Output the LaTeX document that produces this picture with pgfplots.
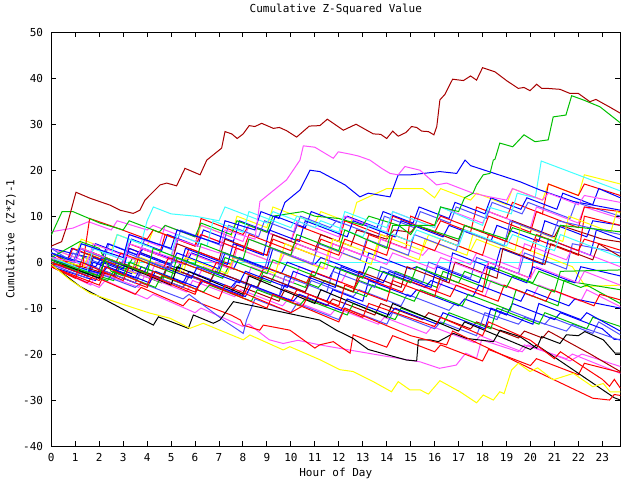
\documentclass[border=0pt]{standalone}
\usepackage{fontspec}
\setmainfont{DejaVu Sans Mono}
\usepackage{pgfplots}
\pgfplotsset{compat=1.18}

\definecolor{cred}{HTML}{FF0000}
\definecolor{cgreen}{HTML}{00C000}
\definecolor{cblue}{HTML}{0000FF}
\definecolor{cmag}{HTML}{FF50FF}
\definecolor{ccyan}{HTML}{40FFFF}
\definecolor{cyel}{HTML}{FFFF00}
\definecolor{cslate}{HTML}{5050FF}
\definecolor{cdred}{HTML}{A80000}

\begin{document}
\begin{tikzpicture}
\useasboundingbox (-51.3pt,-34pt) rectangle (588.7pt,446pt);
\begin{axis}[
    at={(0,0)}, anchor=south west,
    scale only axis,
    width=569pt, height=413.7pt,
    xmin=0, xmax=23.75, ymin=-40, ymax=50,
    xtick={0,1,...,23}, ytick={-40,-30,...,50},
    tick align=inside,
    major tick length=5pt,
    axis line style={line width=1pt},
    every tick/.style={black, line width=1pt},
    font=\fontsize{11}{13}\selectfont,
    /pgf/number format/assume math mode=true,
    xticklabel style={inner sep=0pt, yshift=-7pt},
    yticklabel style={inner sep=0pt, xshift=-8pt},
    title={Cumulative Z-Squared Value},
    title style={at={(axis description cs:0.5,1.040)}, anchor=center, inner sep=0pt},
    xlabel={Hour of Day},
    xlabel style={at={(axis description cs:0.5,-0.066)}, anchor=center, inner sep=0pt},
    ylabel={Cumulative (Z*Z)-1},
    ylabel style={at={(axis description cs:-0.0708,0.5)}, anchor=center, inner sep=0pt},
    no markers,
    every axis plot/.append style={line width=1pt},
]

% flat cyan
\addplot[ccyan] coordinates {(0,0)(23.75,0)};

% L4 yellow
\addplot[cyel] coordinates {(0,3)(1,1)(1.25,5)(2.5,2.5)(2.75,6)(4,3.5)(4.25,7)(6,3.5)(6.25,8)(7.5,5.5)(7.75,10)(9,7.5)(9.25,12)(11,8.5)(11.25,11)(12.5,8.5)(12.75,13)(14,16)(15.5,16)(16,14)(16.25,16)(17.5,13.5)(17.75,15)(19,12.5)(19.25,16)(20.5,13.5)(20.75,17)(22,14.5)(22.25,19)(23.75,17)};
% L5 red
\addplot[cred] coordinates {(0,0.5)(1.5,-2.5)(1.75,2)(3,-0.5)(3.25,4)(4.5,1.5)(4.75,6)(6,3.5)(6.25,9.5)(8,6)(8.25,8)(10,4.5)(10.25,8)(12,4.5)(12.25,9)(14,5.5)(14.25,10)(16,6.5)(16.25,9)(17.5,6.5)(17.75,12)(19,9.5)(19.25,13)(20.5,10.5)(20.75,17)(22,14.5)(22.25,17)(23.75,14.5)};
% L9 blue
\addplot[cblue] coordinates {(0,3)(1.6,1)(1.85,4)(3.1,1.5)(3.35,5)(4.6,2.5)(4.85,6)(6.1,3.5)(6.35,7)(7.6,4.5)(7.85,9)(9.1,6.5)(9.35,10)(10.6,7.5)(10.85,11)(12.1,8.5)(12.35,10)(13.6,7.5)(13.85,11)(15.1,8.5)(15.35,12)(16.6,9.5)(16.85,13)(18.1,10.5)(18.35,14)(19.6,11.5)(19.85,14)(21.1,11.5)(21.35,15)(22.6,12.5)(22.85,16)(23.75,14)};
% L10 magenta
\addplot[cmag] coordinates {(0,2)(1.5,-1)(1.75,3)(3,0.5)(3.25,6)(4.5,3.5)(4.75,8)(6,5.5)(6.25,8)(8,4.5)(8.25,8)(10,4.5)(10.25,9)(12,5.5)(12.25,10)(14,6.5)(14.25,11)(16,7.5)(16.25,12)(18,8.5)(18.25,11)(20,7.5)(20.25,12)(22,8.5)(22.25,12)(23.75,9.5)};
% L11 slate
\addplot[cslate] coordinates {(0,1)(0.65,-1)(0.9,2)(2.15,-0.5)(2.4,4)(3.65,1.5)(3.9,5)(5.15,2.5)(5.4,7)(7.15,3.5)(7.4,8)(8.65,5.5)(8.9,9)(10.15,6.5)(10.4,10)(11.65,7.5)(11.9,9)(13.65,5.5)(13.9,10)(15.15,7.5)(15.4,11)(16.65,8.5)(16.9,12)(18.15,9.5)(18.4,13)(19.65,10.5)(19.9,13)(21.65,9.5)(21.9,13)(23.75,10)};
% L12 dark red
\addplot[cdred] coordinates {(0,2)(1,0)(1.25,3)(3,-0.5)(3.25,3)(5,-0.5)(5.25,4)(7,0.5)(7.25,5)(9,1.5)(9.25,6)(11,2.5)(11.25,6)(12.5,3.5)(12.75,7)(14,5)(14.3,7)(15,6.5)(15.25,8)(17,4.5)(17.25,8)(19,4.5)(19.25,9)(21,5.5)(21.25,8)(23,5)(23.75,4.4)};
% L13 red
\addplot[cred] coordinates {(0,1)(2,-3)(2.25,1)(3.5,-1.5)(3.75,3)(5.5,-0.5)(5.75,3)(7.5,-0.5)(7.75,4)(9,1.5)(9.25,5)(11,1.5)(11.25,5)(13,1.5)(13.25,6)(14.8,3)(15,10)(16,8)(16.25,10)(18,6.5)(18.25,10)(20,6.5)(20.25,11)(22,7.5)(22.25,12)(23.75,11)};
% L14 blue
\addplot[cblue] coordinates {(0,-1)(1.85,-4)(2.1,0)(3.35,-2.5)(3.6,2)(5.35,-1.5)(5.6,3)(7.35,-0.5)(7.6,4)(8.85,1.5)(9.1,7)(10.35,4.5)(10.6,9)(12.35,5.5)(12.6,9)(14.35,5.5)(14.6,9)(16.35,5.5)(16.6,8)(18.35,4.5)(18.6,8)(20.35,4.5)(20.6,9)(22.35,5.5)(22.6,9)(23.75,8)};
% L15 yellow
\addplot[cyel] coordinates {(0,1)(1.5,-2)(1.75,1)(3.5,-2.5)(3.75,1)(5.5,-2.5)(5.75,2)(7.5,-1.5)(7.75,3)(9.5,-0.5)(9.75,4)(11.5,0.5)(11.75,5)(13.5,1.5)(13.75,6)(15.5,2.5)(15.75,6)(17.5,2.5)(17.75,5)(19.5,1.5)(19.75,3)(21.5,-0.5)(21.75,-1)(22.3,-5.3)(23.75,-5)};
% L16 green
\addplot[cgreen] coordinates {(0,0)(2.6,-4)(2.85,-1)(4.6,-4.5)(4.85,-1)(6.6,-4.5)(6.85,-2)(8.6,-5.5)(8.85,-2)(10.6,-5.5)(10.85,-3)(12.6,-6.5)(12.85,-4)(14.1,-6.5)(14.35,-2)(16.1,-5.5)(16.35,-2)(18.1,-5.5)(18.35,-1)(20.1,-4.5)(20.35,-2)(22.1,-5.5)(22.35,-5)(23.75,-9)};
% L17 magenta
\addplot[cmag] coordinates {(0,-0.5)(2.1,-3.5)(2.35,0)(4.1,-3.5)(4.35,0)(6.1,-3.5)(6.35,-1)(8.1,-4.5)(8.35,-1)(10.1,-4.5)(10.35,-1)(12.1,-4.5)(12.35,-2)(14.1,-5.5)(14.35,-3)(16.1,-6.5)(16.35,-4)(18.1,-7.5)(18.35,-4)(20.1,-7.5)(20.35,-5)(22.1,-8.5)(22.35,-6)(23.75,-9.7)};
% L18 slate
\addplot[cslate] coordinates {(0,0.5)(2.6,-3.5)(2.85,0)(4.6,-3.5)(4.85,-1)(6.6,-4.5)(6.85,-2)(8.6,-5.5)(8.85,-3)(10.6,-6.5)(10.85,-4)(12.6,-7.5)(12.85,-6)(14.6,-9.5)(14.85,-7)(16.6,-10.5)(16.85,-9)(18.6,-12.5)(18.85,-10)(20.6,-13.5)(20.85,-12)(22.6,-15.5)(22.85,-13)(23.75,-15.8)};
% L19 blue
\addplot[cblue] coordinates {(0,0)(1.5,-3)(1.75,0)(3.5,-3.5)(3.75,-1)(5.5,-4.5)(5.75,-2)(7.5,-5.5)(7.75,-4)(9.5,-7.5)(9.75,-5)(11.5,-8.5)(11.75,-6)(13,-8.5)(13.25,-4)(15,-7.5)(15.25,-6)(17,-9.5)(17.25,-8)(19,-11.5)(19.25,-9)(21,-12.5)(21.25,-11)(23,-14.5)(23.5,-16.8)(23.75,-16.8)};
% L20 magenta
\addplot[cmag] coordinates {(0,-1)(1.65,-5)(1.9,-2)(3.65,-5.5)(3.9,-3)(5.65,-6.5)(5.9,-4)(7.65,-7.5)(7.9,-6)(9.65,-9.5)(9.9,-8)(11.65,-11.5)(11.9,-10)(13.65,-13.5)(13.9,-12)(15.65,-15.5)(15.9,-14)(17.65,-17.5)(17.9,-16)(19.65,-19.5)(19.9,-18)(21.65,-21.5)(22.15,-20)(23.75,-22.7)};
% L21 magenta
\addplot[cmag] coordinates {(0,-1)(2,-5.5)(2.25,-4)(4,-8)(4.25,-7)(6,-11)(6.25,-10)(8,-14)(8.25,-13.5)(9.1,-16.9)(9.68,-17.7)(10.3,-17)(11.2,-18)(14.1,-20.6)(15.4,-21.7)(16.2,-23.1)(16.9,-22.4)(17.3,-19.8)(17.75,-20.9)(17.96,-16.9)(19.5,-19.5)(19.75,-18)(21.5,-21)(21.75,-20)(23.75,-24.2)};
% L22 red
\addplot[cred] coordinates {(0,-1)(1.5,-4.5)(1.75,-3)(3.5,-7)(3.75,-5.5)(5.5,-9.5)(5.75,-8)(7.5,-11.5)(7.9,-12.6)(8.0,-13.7)(8.7,-14.8)(8.85,-13.7)(9.96,-14.8)(11.0,-18.7)(11.2,-18)(11.77,-17.3)(12.47,-19.8)(12.6,-15.8)(14,-18.5)(14.25,-16)(16,-19.5)(16.25,-18)(18,-21.5)(18.25,-19)(20,-22.5)(20.25,-21)(22,-24.5)(22.25,-22)(23.75,-24)};
% L26 dark red
\addplot[cdred] coordinates {(0,0)(1.5,-3)(1.75,-1)(3.5,-4.5)(3.75,-2)(5.5,-5.5)(5.75,-3)(7.5,-6.5)(7.75,-5)(9.5,-8.5)(9.75,-6)(11.5,-9.5)(11.75,-8)(13.5,-11.5)(13.75,-9)(15.5,-12.5)(15.75,-11)(17.5,-14.5)(17.75,-13)(19.5,-16.5)(19.75,-15)(20.5,-16.5)(20.75,-15)(22.5,-20)(23.75,-23.8)};
% L27 slate
\addplot[cslate] coordinates {(0,0)(1.5,-3)(1.75,-2)(3.5,-5.5)(3.75,-4.5)(5.5,-8)(5.75,-7)(7.18,-12.6)(8.01,-15.5)(8.15,-12.6)(8.5,-8)(10,-11)(10.25,-9)(12,-12.5)(12.25,-10)(14,-13.5)(14.25,-11)(16,-14.5)(16.25,-13)(17.75,-16)(18.1,-11)(19.5,-13.5)(19.75,-12)(21.5,-15)(21.75,-13.5)(23.75,-17)};
% L28 blue
\addplot[cblue] coordinates {(0,1.5)(0.6,-0.5)(0.85,3)(2.1,0.5)(2.35,4)(3.6,1.5)(3.85,3)(5.6,-0.5)(5.85,2)(7.6,-1.5)(7.85,1)(9.6,-2.5)(9.85,0)(11.6,-3.5)(11.85,-1)(13.6,-4.5)(13.85,-2)(15.6,-5.5)(15.85,-4)(17.6,-7.5)(17.85,-5)(19.6,-8.5)(19.85,-6)(21.6,-9.5)(21.85,-8)(23.75,-10)};
% L29 green
\addplot[cgreen] coordinates {(0,2)(1.15,-1)(1.4,2)(3.15,-1.5)(3.4,1)(5.15,-2.5)(5.4,0)(7.15,-3.5)(7.4,-1)(9.15,-4.5)(9.4,-2)(11.15,-5.5)(11.4,-4)(13.15,-7.5)(13.4,-5)(15.15,-8.5)(15.4,-6)(17.15,-9.5)(17.4,-7)(19.15,-10.5)(19.4,-6)(21.15,-9.5)(21.4,-4)(23.75,-6)};
% L30 red
\addplot[cred] coordinates {(0,-1)(2,-5)(2.25,-2)(4,-5.5)(4.25,-3)(6,-6.5)(6.25,-4)(8,-7.5)(8.25,-5)(10,-8.5)(10.25,-6)(12,-9.5)(12.25,-5)(14,-8.5)(14.25,-4)(16,-7.5)(16.25,-3)(18,-6.5)(18.25,0)(20,-3.5)(20.25,5)(22,1.5)(22.25,10)(23.75,8)};
% L31 blue
\addplot[cblue] coordinates {(0,0)(1.5,-3)(1.75,1)(3,-1.5)(3.25,3)(5,-0.5)(5.25,2)(7,-1.5)(7.25,2)(9,-1.5)(9.25,3)(11,-0.5)(11.25,1)(13,-2.5)(13.25,2)(15,-1.5)(15.25,-1)(16.5,-4)(16.75,2)(18.5,-1.5)(18.75,3)(20.5,-0.5)(20.75,5)(22.5,1.5)(22.75,7)(23.75,5)};
% L32 slate
\addplot[cslate] coordinates {(0,-0.5)(1.5,-3.5)(1.75,-1)(3.5,-4.5)(3.75,-2)(5.5,-5.5)(5.75,-3)(7.5,-6.5)(7.75,-4)(9.5,-7.5)(9.75,-3)(11.5,-6.5)(11.75,-2)(13.5,-5.5)(13.75,-1)(15.5,-4.5)(15.75,0)(17.5,-3.5)(17.75,1)(19.5,-2.5)(19.75,2)(21.5,-1.5)(21.75,4)(23.75,2)};
% L34 magenta
\addplot[cmag] coordinates {(0,3)(1.5,0)(1.75,4)(3.5,0.5)(3.75,3)(5.5,-0.5)(5.75,2)(7.5,-1.5)(7.75,3)(9.5,-0.5)(9.75,2)(11.5,-1.5)(11.75,4)(13.5,0.5)(13.75,5)(15.5,1.5)(15.75,3)(17.5,-0.5)(17.75,2)(19.5,-1.5)(19.75,4)(21.5,0.5)(21.75,3)(23.75,-1)};
% L35 dark red
\addplot[cdred] coordinates {(0,1)(2.6,-3)(2.85,0)(4.6,-3.5)(4.85,-1)(6.6,-4.5)(6.85,-2)(8.6,-5.5)(8.85,-3)(10.6,-6.5)(10.85,-3)(12.6,-6.5)(12.85,-2)(14.6,-5.5)(14.85,-1)(16.6,-4.5)(16.85,0)(18.6,-3.5)(18.85,3)(20.6,-0.5)(20.85,4)(22.6,0.5)(22.85,4)(23.75,1.2)};
% L36 yellow
\addplot[cyel] coordinates {(0,1)(1.35,-1)(1.6,2)(3.35,-1.5)(3.6,1)(5.35,-2.5)(5.6,1)(7.35,-2.5)(7.6,1)(9.35,-2.5)(9.6,2)(11.35,-1.5)(11.6,3)(13.35,-0.5)(13.6,4)(15.35,0.5)(15.6,5)(17.35,1.5)(17.6,6)(19.35,2.5)(19.6,8)(21.35,4.5)(21.6,10)(23.35,6.5)(23.6,11)(23.75,10.7)};
% L37 red
\addplot[cred] coordinates {(0,2)(0.65,0)(0.9,3)(2.65,-0.5)(2.9,2)(4.65,-1.5)(4.9,1)(6.65,-2.5)(6.9,0)(8.65,-3.5)(8.9,-1)(10.65,-4.5)(10.9,-2)(12.65,-5.5)(12.9,-3)(14.65,-6.5)(14.9,-4)(16.65,-7.5)(16.9,-5)(18.65,-8.5)(18.9,-5)(20.65,-8.5)(20.9,-6)(22.65,-9.5)(22.9,-7)(23.75,-8.2)};
% L38 green
\addplot[cgreen] coordinates {(0,0)(2.35,-4)(2.6,-2)(4.35,-5.5)(4.6,-3)(6.35,-6.5)(6.6,-5)(8.35,-8.5)(8.6,-6)(10.35,-9.5)(10.6,-8)(12.35,-11.5)(12.6,-9)(14.35,-12.5)(14.6,-10)(16.35,-13.5)(16.6,-11)(18.35,-14.5)(18.6,-10)(20.35,-13.5)(20.6,-11)(22.35,-14.5)(22.6,-12)(23.75,-14)};
% L39 blue
\addplot[cblue] coordinates {(0,2)(1.85,-1)(2.1,1)(3.85,-2.5)(4.1,0)(5.85,-3.5)(6.1,-1)(7.85,-4.5)(8.1,-2)(9.85,-5.5)(10.1,-2)(11.85,-5.5)(12.1,-1)(13.85,-4.5)(14.1,-2)(15.85,-5.5)(16.1,-1)(17.85,-4.5)(18.1,-1)(19.85,-4.5)(20.1,-1)(21.85,-4.5)(22.1,-1)(23.75,-3)};
% L40 slate
\addplot[cslate] coordinates {(0,3)(0.9,0)(1.15,3)(2.9,-0.5)(3.15,2)(4.9,-1.5)(5.15,1)(6.9,-2.5)(7.15,2)(8.9,-1.5)(9.15,3)(10.9,-0.5)(11.15,4)(12.9,0.5)(13.15,5)(14.9,1.5)(15.15,6)(16.9,2.5)(17.15,7)(18.9,3.5)(19.15,9)(20.9,5.5)(21.15,9)(23.75,6)};
% L41 blue
\addplot[cblue] coordinates {(0,0.5)(2.1,-2.5)(2.35,-1)(4.1,-4.5)(4.35,-2)(6.1,-5.5)(6.35,-4)(8.1,-7.5)(8.35,-5)(10.1,-8.5)(10.35,-7)(12.1,-10.5)(12.35,-8)(14.1,-11.5)(14.35,-10)(16.1,-13.5)(16.35,-11)(18.1,-14.5)(18.35,-10)(20.1,-13.5)(20.35,-9)(22.1,-12.5)(22.35,-11)(23.75,-15)};
% L42 magenta
\addplot[cmag] coordinates {(0,6.6)(0.9,7.4)(1.55,8.8)(2.5,7)(2.75,9)(4,7)(4.25,8)(6,4.5)(6.25,6)(8,2.5)(8.25,5)(10,1.5)(10.25,4)(12,0.5)(12.25,3)(14,-0.5)(14.25,2)(16,-1.5)(16.25,1)(18,-2.5)(18.25,0)(20,-3.5)(20.25,-1)(22,-4.5)(22.25,-2)(23.75,-5)};
% L6 red
\addplot[cred] coordinates {(0,-0.5)(1.3,-1)(1.6,9.5)(2.6,7.7)(4,5)(4.25,7)(6,3.5)(6.25,6)(8,2.5)(8.25,6)(10,2.5)(10.25,5)(12,1.5)(12.25,5)(14,1.5)(14.25,6)(16,2.5)(16.25,5)(18,1.5)(18.25,6)(20,2.5)(20.25,6)(22,2.5)(22.25,5)(23.75,2.6)};
% L7 green
\addplot[cgreen] coordinates {(0,5.9)(0.45,11)(0.9,11)(2.03,8.5)(3,7)(3.25,9)(4.5,6.5)(4.75,8)(6,5.5)(6.25,8.5)(7.5,6)(7.75,9)(9,6.5)(9.25,10)(10.5,11)(11,10)(12,9.5)(13,8)(13.25,10)(14.5,8)(15,6)(15.25,8)(17,5)(17.25,8)(19,5)(19.25,7.5)(21,4.5)(21.25,8)(23.75,6.6)};
% L8 green
\addplot[cgreen] coordinates {(0,1)(1.2,4.5)(2,3)(2.5,-2)(3,-3)(3.25,0)(5,-3.5)(5.25,1)(7,-2.5)(7.25,1)(9,-2.5)(9.25,0.5)(11,-3)(11.25,0)(13,-3.5)(13.25,-1)(15,-4.5)(15.25,-1)(17,-4.5)(17.25,-2)(19,-5.5)(19.25,-3)(21,-6.5)(21.25,-2)(23.75,-1.7)};
% L2 cyan
\addplot[ccyan] coordinates {(0,2)(1,0)(1.25,4)(2.5,1.5)(2.75,6)(3.75,4)(4,9)(4.26,12)(5,10.5)(6,10)(7,9)(7.25,12)(9,8.5)(9.25,11)(11,7.5)(11.25,9)(13,5.5)(13.25,8)(15,4.5)(15.25,7)(17,3.5)(17.25,7)(19,3.5)(19.25,6)(21,2.5)(21.25,6)(23.75,1)};
% L1 cyan
\addplot[ccyan] coordinates {(0,1)(1.5,-2)(1.75,3)(3,0.5)(3.25,5)(5,1.5)(5.25,6)(6.5,3.5)(6.75,9)(8,6.5)(8.25,11)(10,7.5)(10.25,10)(12,6.5)(12.25,11)(14,7.5)(14.25,11)(16,7.5)(16.25,12)(18,8)(18.25,12)(19.2,10.5)(19.45,15)(20.2,14)(20.45,22)(23.75,15.5)};
% black G
\addplot[black] coordinates {(0,-0.5)(1.2,-5.3)(3.84,-12.6)(4.26,-13.7)(4.47,-11.9)(5.72,-14.4)(5.93,-11.5)(6.76,-13.3)(7.04,-12.6)(7.6,-8.6)(11.2,-12.6)(11.9,-14.8)(12.6,-16.6)(13.23,-19)(14.06,-20.2)(14.83,-21.3)(15.25,-21.5)(15.32,-16.9)(15.8,-16.9)(16.15,-17.3)(16.78,-15.5)(17.34,-16.6)(18.45,-17.3)(18.73,-14.8)(19.56,-16.2)(20.26,-18.7)(20.47,-16.2)(21.23,-17.7)(21.5,-15.8)(22,-16)(22.27,-15.1)(23.04,-16.9)(23.53,-19.8)(23.75,-19.8)};
% black H
\addplot[black] coordinates {(0,0.5)(2,-3.5)(2.25,1)(5,-5)(5.25,-1)(8,-7)(8.25,-3)(11,-9)(11.25,-6)(14,-12)(14.25,-9)(17,-15)(17.25,-13)(20,-19)(20.25,-18)(23.5,-29.5)(23.75,-30)};
% red I
\addplot[cred] coordinates {(0,-1)(1,-3.5)(1.25,0)(3,-4)(3.25,-1)(6,-7)(6.25,-4)(9,-10)(9.25,-7)(12,-13)(12.25,-10)(15,-16)(16.5,-18)(16.75,-15)(20.1,-23.4)(22.6,-29.6)(23.3,-30)(23.5,-28.8)(23.75,-29)};
% red J
\addplot[cred] coordinates {(0,0)(2,-4)(2.25,-1)(4,-5)(4.25,-2)(7,-8)(7.25,-5)(10,-11)(10.5,-9.5)(10.75,-7)(13,-12)(13.25,-9)(16,-14)(16.25,-12)(18,-16)(18.25,-13)(20,-17)(21,-21)(21.25,-19.5)(23,-25.5)(23.3,-27)(23.5,-25.5)(23.75,-27.4)};
% yellow bottom
\addplot[cyel] coordinates {(0,-0.5)(0.78,-3.85)(1.62,-6.8)(3.29,-9.7)(4.12,-11.1)(4.95,-12.2)(5.79,-14.4)(6.34,-13.3)(8.01,-16.9)(8.29,-15.85)(9.68,-19.1)(9.96,-18.4)(11.2,-21.2)(12.05,-23.4)(12.6,-23.8)(13.44,-26)(14.2,-28.2)(14.48,-26)(14.97,-27.8)(15.4,-27.8)(15.74,-28.7)(16.22,-25.8)(17.06,-28.2)(17.75,-30.6)(18.03,-28.9)(18.45,-30)(18.72,-28.2)(18.9,-28.6)(19.21,-23.5)(19.49,-22)(19.98,-23.8)(20.3,-23)(20.95,-25.6)(21.79,-24.2)(22.6,-27.1)(23.04,-26.4)(23.32,-28.2)(23.75,-28.2)};
% blue top
\addplot[cblue] coordinates {(0,2)(1,0)(1.25,4)(3,1)(3.25,6)(5,3)(5.25,7)(7,4)(7.25,9)(8.5,7)(8.75,11)(9.5,9.5)(9.75,13)(10.38,15.7)(10.8,20)(11.21,19.7)(12.26,16.8)(12.88,14.2)(13.23,15)(14.14,14.2)(14.48,19)(15,19)(15.53,19.3)(16.22,19.7)(16.92,19.3)(17.27,22.2)(17.5,21)(19.56,17.5)(20.4,15.7)(21.79,13.2)(23.75,11.3)};
% magenta top
\addplot[cmag] coordinates {(0,1)(1,0)(1.25,3)(3,-0.5)(3.25,4)(5,1)(5.25,5)(7,2)(7.25,7)(8.5,5)(8.71,13.2)(9.82,17.9)(10.38,22.2)(10.52,25.3)(11,25)(11.77,22.6)(11.98,24)(12.47,23.5)(12.81,23.1)(13.3,22.2)(13.79,20.4)(14.14,19.3)(14.48,19)(14.76,20.8)(15.39,20)(16.08,16.8)(16.5,17.2)(17.6,15)(18.3,14.2)(19,13.5)(19.25,16)(20.5,13.5)(20.75,15)(22,12.5)(22.25,14.5)(23.75,13)};
% green rising
\addplot[cgreen] coordinates {(0,0.5)(2,-3)(2.25,1)(4,-2.5)(4.25,3)(6,-0.5)(6.25,4)(8,0.5)(8.25,5)(10,1.5)(10.25,6)(12,2.5)(12.25,7)(14,3)(14.25,8)(16,8)(16.25,12)(17,11)(17.25,14)(17.6,15)(17.75,16.8)(18.03,19)(18.31,19.3)(18.45,22.2)(18.52,22.4)(18.72,25.9)(19.26,25.1)(19.73,27.7)(20.19,26.2)(20.74,26.6)(20.95,31.6)(21.48,32)(21.72,36.2)(22.2,35.3)(22.9,33.8)(23.75,30.3)};
% dark red top
\addplot[cdred] coordinates {(0,3.5)(0.43,4.45)(0.64,7.7)(1.03,15.2)(1.62,13.9)(2.45,12.4)(2.87,11.3)(3.42,10.6)(3.7,11.3)(3.91,13.5)(4.54,16.8)(4.82,17.2)(5.23,16.6)(5.58,20.4)(6.21,19)(6.49,22.2)(7.11,24.8)(7.25,28.4)(7.53,27.9)(7.76,26.9)(8.01,27.9)(8.26,29.7)(8.5,29.5)(8.78,30.2)(9.27,29.1)(9.52,29.3)(9.82,28.6)(10.24,27.2)(10.77,29.6)(11.21,29.7)(11.52,31.1)(12.19,28.7)(12.72,30)(13.44,27.9)(13.75,27.8)(14,26.9)(14.25,28.5)(14.48,27.4)(14.8,28.2)(15.04,29.5)(15.25,29.3)(15.46,28.5)(15.74,28.4)(15.97,27.7)(16.09,29.5)(16.22,35.3)(16.43,36.5)(16.75,39.8)(17.2,39.5)(17.5,40.5)(17.75,39.6)(18,42.3)(18.52,41.4)(19,39.5)(19.49,37.8)(19.73,38)(19.98,37.3)(20.26,38.7)(20.47,37.8)(20.7,37.8)(21.23,37.6)(21.65,36.7)(22,36.7)(22.48,34.9)(22.73,35.4)(23.32,33.7)(23.75,32.4)};
\end{axis}
\end{tikzpicture}
\end{document}
